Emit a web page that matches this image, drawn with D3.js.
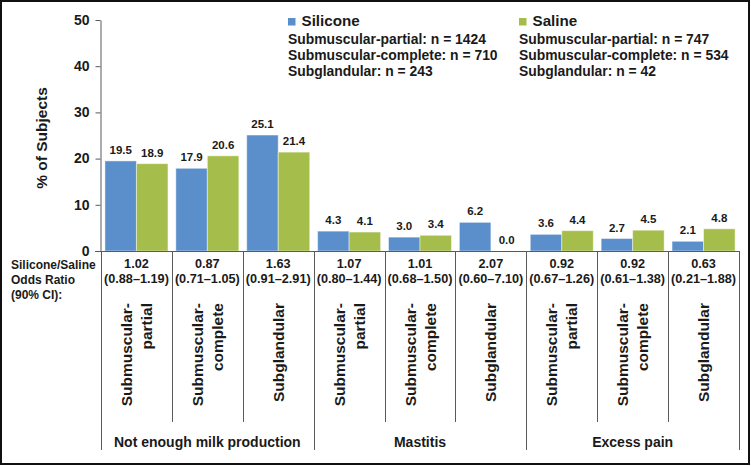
<!DOCTYPE html>
<html><head><meta charset="utf-8">
<script src="https://cdn.jsdelivr.net/npm/d3@7"></script>
<style>body{margin:0;background:#fff}svg{display:block;font-family:"Liberation Sans",Arial,sans-serif;font-weight:bold}</style>
</head><body><svg id="c" width="751" height="466"></svg>
<script>
const groups = ["Not enough milk production","Mastitis","Excess pain"];
const placements = [["Submuscular-","partial"],["Submuscular-","complete"],["Subglandular"]];
const series = ["Silicone","Saline"];
const siliconeValues = [19.5,17.9,25.1, 4.3,3.0,6.2, 3.6,2.7,2.1];
const salineValues   = [18.9,20.6,21.4, 4.1,3.4,0.0, 4.4,4.5,4.8];
const oddsRatio = ["1.02","0.87","1.63","1.07","1.01","2.07","0.92","0.92","0.63"];
const oddsCI = ["(0.88–1.19)","(0.71–1.05)","(0.91–2.91)","(0.80–1.44)","(0.68–1.50)","(0.60–7.10)","(0.67–1.26)","(0.61–1.38)","(0.21–1.88)"];
const yTicks = [0,10,20,30,40,50];
const legendSilicone = ["Submuscular-partial: n = 1424","Submuscular-complete: n = 710","Subglandular: n = 243"];
const legendSaline = ["Submuscular-partial: n = 747","Submuscular-complete: n = 534","Subglandular: n = 42"];
const rowLabels = ["Silicone/Saline","Odds Ratio","(90% CI):"];

const colors = {Silicone:"#5b8fcc", Saline:"#a5bd4a"};
const txt = "#1a1a1a", lineCol = "#5a5a5a";
const svg = d3.select("#c");
svg.append("rect").attr("x",1).attr("y",1).attr("width",748).attr("height",463)
  .attr("fill","#fff").attr("stroke","#111").attr("stroke-width",2);

const cats = [];
groups.forEach((g,gi)=>placements.forEach((p,pi)=>cats.push({id:gi+"-"+pi, g:gi, p:pi, i:gi*3+pi})));
const x0 = d3.scaleBand().domain(cats.map(d=>d.id)).range([101,739]).padding(0);
const x1 = d3.scaleBand().domain(series).range([0,x0.bandwidth()]).paddingInner(0).paddingOuter(0.125);
const y = d3.scaleLinear().domain([0,50]).range([251,20]);

// y axis
const ya = svg.append("g").attr("transform","translate(100.5,0)")
  .call(d3.axisLeft(y).tickValues(yTicks).tickSize(5).tickPadding(6).tickSizeOuter(0));
ya.select(".domain").attr("stroke",lineCol);
ya.selectAll(".tick line").attr("stroke",lineCol);
ya.selectAll(".tick text").attr("fill",txt).attr("dy","0.3em").style("font-size","14px").style("font-weight","bold")
  .style("font-family","'Liberation Sans',Arial,sans-serif");
svg.append("text").attr("transform","translate(47,138) rotate(-90)").attr("text-anchor","middle")
  .attr("fill",txt).style("font-size","15.5px").text("% of Subjects");

// bars
const barData = [];
cats.forEach(c=>{
  barData.push({c, s:"Silicone", v:siliconeValues[c.i]});
  barData.push({c, s:"Saline", v:salineValues[c.i]});
});
svg.append("g").selectAll("rect").data(barData).join("rect")
  .attr("x",d=>x0(d.c.id)+x1(d.s)).attr("width",x1.bandwidth())
  .attr("y",d=>y(d.v)).attr("height",d=>y(0)-y(d.v))
  .attr("fill",d=>colors[d.s]).attr("stroke","#fff").attr("stroke-opacity",0.45).attr("stroke-width",1);
svg.append("g").selectAll("text").data(barData).join("text")
  .attr("x",d=>x0(d.c.id)+x1(d.s)+x1.bandwidth()/2).attr("y",d=>y(d.v)-7)
  .attr("text-anchor","middle").attr("fill",txt).style("font-size","11.5px")
  .text(d=>d.v.toFixed(1));

// x axis line
svg.append("line").attr("x1",95).attr("x2",739).attr("y1",251.5).attr("y2",251.5).attr("stroke",lineCol);

// table vertical lines
const bounds = d3.range(10);
svg.append("g").selectAll("line").data(bounds).join("line")
  .attr("x1",i=>Math.round(i<9?x0(cats[i].id):x0.range()[1])+0.5)
  .attr("x2",i=>Math.round(i<9?x0(cats[i].id):x0.range()[1])+0.5)
  .attr("y1",251).attr("y2",i=>i%3===0?450:422).attr("stroke",lineCol);

// row labels
svg.append("g").selectAll("text").data(rowLabels).join("text")
  .attr("x",11).attr("y",(d,i)=>269+i*15).attr("fill",txt).style("font-size","12px").text(d=>d);
// odds ratios
const tbl = svg.append("g");
cats.forEach(c=>{
  const cx = x0(c.id)+x0.bandwidth()/2;
  tbl.append("text").attr("x",cx).attr("y",268).attr("text-anchor","middle").attr("fill",txt)
    .style("font-size","12.7px").text(oddsRatio[c.i]);
  tbl.append("text").attr("x",cx).attr("y",283).attr("text-anchor","middle").attr("fill",txt)
    .style("font-size","12.7px").text(oddsCI[c.i]);
  const lines = placements[c.p];
  const t = tbl.append("text").attr("transform",`translate(${cx},303) rotate(-90)`)
    .attr("text-anchor","end").attr("fill",txt).style("font-size","15.5px");
  lines.forEach((l,li)=>{
    const off = lines.length===1?0:(li===0?-10:10);
    t.append("tspan").attr("x",0).attr("y",off).attr("dy","0.36em").text(l);
  });
});
// group labels
groups.forEach((g,gi)=>{
  const a = x0(cats[gi*3].id), b = x0(cats[gi*3+2].id)+x0.bandwidth();
  svg.append("text").attr("x",(a+b)/2).attr("y",447).attr("text-anchor","middle").attr("fill",txt)
    .style("font-size","14px").text(g);
});

// legend
function legend(xs, name, lines){
  svg.append("rect").attr("x",xs).attr("y",18).attr("width",7.5).attr("height",7.5).attr("fill",colors[name]);
  svg.append("text").attr("x",xs+13.5).attr("y",26).attr("fill",txt).style("font-size","15.2px").text(name);
  lines.forEach((l,i)=>svg.append("text").attr("x",xs).attr("y",44+i*16).attr("fill",txt)
    .style("font-size","13.9px").text(l));
}
legend(288,"Silicone",legendSilicone);
legend(519,"Saline",legendSaline);
</script></body></html>
